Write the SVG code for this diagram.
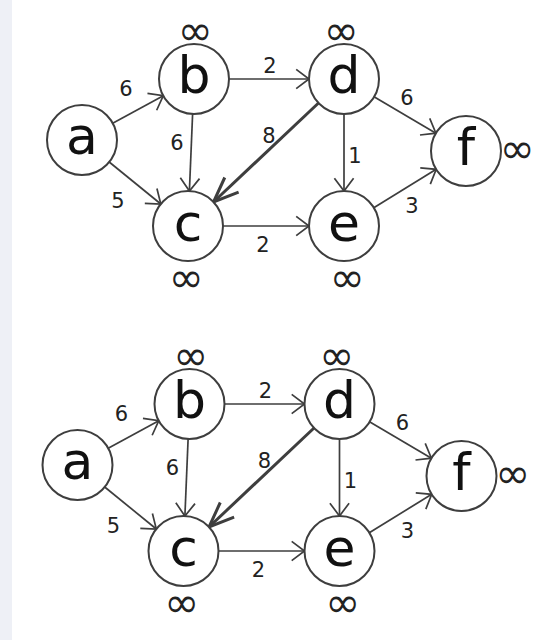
<svg xmlns="http://www.w3.org/2000/svg" width="554" height="640" viewBox="0 0 554 640">
<style>
.bg{fill:#ffffff}
.strip{fill:#eef0f6}
.node circle{fill:#ffffff;stroke:#3e3e3e;stroke-width:2}
.node text{font-family:"DejaVu Sans",Verdana,sans-serif;font-size:52px;fill:#111;text-anchor:middle}
.edge{fill:none;stroke:#3e3e3e;stroke-width:1.7;marker-end:url(#arr)}
.edge.thick{stroke-width:3;marker-end:url(#arrT)}
.lbl{font-family:"DejaVu Sans",Verdana,sans-serif;font-size:21px;fill:#222;text-anchor:middle}
.node text.inf{font-family:"DejaVu Sans",Verdana,sans-serif;font-size:42px;fill:#222;text-anchor:middle}
</style>
<defs>
<marker id="arr" markerUnits="userSpaceOnUse" viewBox="-2 -2 17 24" markerWidth="17" markerHeight="24" refX="12.8" refY="9.6" orient="auto" overflow="visible">
<path d="M0,0 L12.8,9.6 L0,19.2" fill="none" stroke="#3e3e3e" stroke-width="1.7" stroke-linejoin="miter"/>
</marker>
<marker id="arrT" markerUnits="userSpaceOnUse" viewBox="-2 -2 30 26" markerWidth="30" markerHeight="26" refX="25" refY="10.1" orient="auto" overflow="visible">
<path d="M0,0 L25,10.1 L0,20.2" fill="none" stroke="#3e3e3e" stroke-width="3"/>
</marker>
</defs>
<rect class="bg" x="0" y="0" width="554" height="640"/>
<rect class="strip" x="0" y="0" width="12" height="640"/>

<g id="graph1">
<g id="edges1">
<line class="edge" x1="112.7" y1="123.3" x2="163.3" y2="95.7"/>
<line class="edge" x1="109.2" y1="162" x2="160.8" y2="204"/>
<line class="edge" x1="192.6" y1="114" x2="189.4" y2="191"/>
<line class="edge" x1="229" y1="79" x2="309" y2="79"/>
<line class="edge" x1="223" y1="226" x2="309" y2="226"/>
<line class="edge" x1="344" y1="114" x2="344" y2="191"/>
<line class="edge thick" x1="318.5" y1="103" x2="213.5" y2="202"/>
<line class="edge" x1="374" y1="96.8" x2="435.9" y2="133.2"/>
<line class="edge" x1="373.8" y1="207.7" x2="436.2" y2="169.3"/>
</g>
<g id="labels1">
<text class="lbl" x="126" y="96">6</text>
<text class="lbl" x="177" y="150">6</text>
<text class="lbl" x="269" y="143">8</text>
<text class="lbl" x="118" y="208">5</text>
<text class="lbl" x="270" y="73">2</text>
<text class="lbl" x="263" y="252">2</text>
<text class="lbl" x="407" y="105">6</text>
<text class="lbl" x="355" y="163">1</text>
<text class="lbl" x="412" y="213">3</text>
</g>
<g id="g1-a" class="node"><circle cx="82" cy="140" r="35"/><text x="82" y="154">a</text></g>
<g id="g1-b" class="node"><circle cx="194" cy="79" r="35"/><text x="194" y="93">b</text><text class="inf" x="195" y="44.5">∞</text></g>
<g id="g1-c" class="node"><circle cx="188" cy="226" r="35"/><text x="188" y="241">c</text><text class="inf" x="186" y="291.5">∞</text></g>
<g id="g1-d" class="node"><circle cx="344" cy="79" r="35"/><text x="344" y="93">d</text><text class="inf" x="341" y="44.5">∞</text></g>
<g id="g1-e" class="node"><circle cx="344" cy="226" r="35"/><text x="344" y="241">e</text><text class="inf" x="347" y="291.5">∞</text></g>
<g id="g1-f" class="node"><circle cx="466" cy="151" r="35"/><text x="466" y="165">f</text><text class="inf" x="517" y="162.5">∞</text></g>
</g>

<g id="graph2" transform="translate(-4.5,325)">
<g id="edges2">
<line class="edge" x1="112.7" y1="123.3" x2="163.3" y2="95.7"/>
<line class="edge" x1="109.2" y1="162" x2="160.8" y2="204"/>
<line class="edge" x1="192.6" y1="114" x2="189.4" y2="191"/>
<line class="edge" x1="229" y1="79" x2="309" y2="79"/>
<line class="edge" x1="223" y1="226" x2="309" y2="226"/>
<line class="edge" x1="344" y1="114" x2="344" y2="191"/>
<line class="edge thick" x1="318.5" y1="103" x2="213.5" y2="202"/>
<line class="edge" x1="374" y1="96.8" x2="435.9" y2="133.2"/>
<line class="edge" x1="373.8" y1="207.7" x2="436.2" y2="169.3"/>
</g>
<g id="labels2">
<text class="lbl" x="126" y="96">6</text>
<text class="lbl" x="177" y="150">6</text>
<text class="lbl" x="269" y="143">8</text>
<text class="lbl" x="118" y="208">5</text>
<text class="lbl" x="270" y="73">2</text>
<text class="lbl" x="263" y="252">2</text>
<text class="lbl" x="407" y="105">6</text>
<text class="lbl" x="355" y="163">1</text>
<text class="lbl" x="412" y="213">3</text>
</g>
<g id="g2-a" class="node"><circle cx="82" cy="140" r="35"/><text x="82" y="154">a</text></g>
<g id="g2-b" class="node"><circle cx="194" cy="79" r="35"/><text x="194" y="93">b</text><text class="inf" x="195" y="44.5">∞</text></g>
<g id="g2-c" class="node"><circle cx="188" cy="226" r="35"/><text x="188" y="241">c</text><text class="inf" x="186" y="291.5">∞</text></g>
<g id="g2-d" class="node"><circle cx="344" cy="79" r="35"/><text x="344" y="93">d</text><text class="inf" x="341" y="44.5">∞</text></g>
<g id="g2-e" class="node"><circle cx="344" cy="226" r="35"/><text x="344" y="241">e</text><text class="inf" x="347" y="291.5">∞</text></g>
<g id="g2-f" class="node"><circle cx="466" cy="151" r="35"/><text x="466" y="165">f</text><text class="inf" x="517" y="162.5">∞</text></g>
</g>
</svg>
